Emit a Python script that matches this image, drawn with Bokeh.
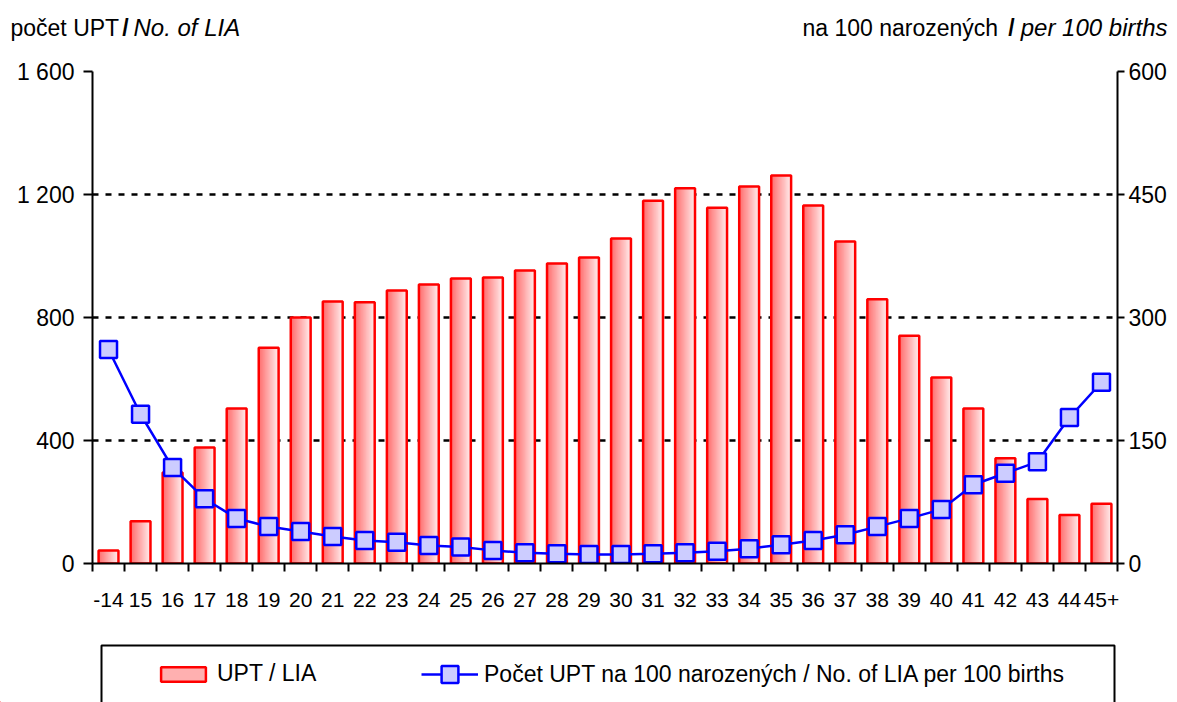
from bokeh.plotting import figure
from bokeh.layouts import column
from bokeh.models import (Range1d, LinearAxis, FixedTicker, ColumnDataSource, Legend,
                          LegendItem, Label, BoxAnnotation)
from bokeh.transform import dodge
from bokeh.embed import file_html
from bokeh.resources import INLINE

categories = ["-14", "15", "16", "17", "18", "19", "20", "21", "22", "23", "24", "25",
              "26", "27", "28", "29", "30", "31", "32", "33", "34", "35", "36", "37",
              "38", "39", "40", "41", "42", "43", "44", "45+"]
upt = [42, 137, 296, 377, 504, 702, 800, 852, 850, 888, 907, 927, 930, 953, 976, 995,
       1057, 1180, 1220, 1157, 1226, 1262, 1164, 1047, 859, 741, 605, 504, 342, 210, 158, 194]
rate = [261, 182, 117, 79, 55, 45, 39, 33, 28, 26, 22, 20, 16, 13, 12, 11,
        11, 12, 13, 15, 18, 23, 28, 35, 45, 55, 66, 96, 110, 124, 178, 221]
left_ticks = [0, 400, 800, 1200, 1600]
left_tick_labels = ["0", "400", "800", "1 200", "1 600"]
right_ticks = [0, 150, 300, 450, 600]

FONT = "Liberation Sans"
W = 1177
TOP_H, MAIN_H, LEG_H = 50, 590, 62
NCAT = len(categories)

# ---------------- title strip ----------------
tf = figure(width=W, height=TOP_H, x_range=Range1d(0, W), y_range=Range1d(0, TOP_H),
            output_backend="svg", toolbar_location=None, min_border=0, frame_align=False)
tf.axis.visible = False
tf.grid.visible = False
tf.outline_line_color = None
ty = TOP_H - 27
for txt, px, align, style, fs in [
    ("počet UPT", 10, "left", "normal", "23px"),
    ("/", 125, "center", "bold", "23px"),
    ("No. of LIA", 133, "left", "italic", "24px"),
    ("na  100 narozených", 1004, "right", "normal", "23px"),
    ("/", 1011, "center", "bold", "23px"),
    ("per 100 births", 1167, "right", "italic", "24px"),
]:
    tf.add_layout(Label(x=px, y=ty, text=txt, text_font=FONT, text_font_size=fs,
                        text_font_style=style, text_align=align, text_baseline="middle",
                        text_color="black"))

# ---------------- main chart ----------------
xs = [i + 0.5 for i in range(NCAT)]
src = ColumnDataSource(dict(x=xs, upt=upt, rate=rate, cat=categories))

p = figure(width=W, height=MAIN_H, x_range=Range1d(0, NCAT), y_range=Range1d(0, 1600),
           output_backend="svg", toolbar_location=None, frame_align=False,
           min_border_left=92, min_border_right=60, min_border_top=71 - TOP_H,
           min_border_bottom=TOP_H + MAIN_H - 563)
p.extra_y_ranges = {"rate": Range1d(0, 600)}
p.outline_line_color = None

p.xgrid.visible = False
p.ygrid.ticker = FixedTicker(ticks=[400, 800, 1200, 1600])
p.ygrid.grid_line_color = "black"
p.ygrid.grid_line_width = 2.5
p.ygrid.grid_line_dash = "6 7"

# bars: horizontal gradient built from layered bars sharing the right edge
bar_w = 0.62
N = 16
c0 = (255, 112, 112)
c1 = (255, 234, 234)
for k in range(N):
    t = k / (N - 1)
    col = "#%02x%02x%02x" % tuple(int(round(a + (b - a) * t)) for a, b in zip(c0, c1))
    left = -bar_w / 2 + k * bar_w / N
    right = bar_w / 2
    p.vbar(x=dodge("x", (left + right) / 2), top="upt", width=right - left, bottom=0,
           source=src, fill_color=col, line_color=None)
p.vbar(x="x", top="upt", width=bar_w, bottom=0, source=src,
       fill_color=None, line_color="#ff0000", line_width=2.5)

p.line(x="x", y="rate", source=src, y_range_name="rate", line_color="#0000ff", line_width=2.5)
p.scatter(x="x", y="rate", source=src, y_range_name="rate", marker="square", size=17,
          fill_color="#ccccff", line_color="#0000ff", line_width=2.5)

xa = p.xaxis[0]
xa.ticker = FixedTicker(ticks=xs, minor_ticks=list(range(NCAT + 1)))
xa.major_label_overrides = {x: c for x, c in zip(xs, categories)}
xa.major_tick_out = 0
xa.major_tick_in = 0
xa.minor_tick_out = 8
xa.minor_tick_in = 0
xa.minor_tick_line_color = "black"
xa.minor_tick_line_width = 2
xa.axis_line_color = "black"
xa.axis_line_width = 2
xa.major_label_text_font = FONT
xa.major_label_text_font_size = "21px"
xa.major_label_text_color = "black"
xa.major_label_standoff = 21

ya = p.yaxis[0]
ya.ticker = FixedTicker(ticks=left_ticks)
ya.major_label_overrides = {t: l for t, l in zip(left_ticks, left_tick_labels)}
ya.major_tick_out = 9
ya.major_tick_in = 0
ya.minor_tick_out = 0
ya.minor_tick_in = 0
ya.major_tick_line_width = 2
ya.axis_line_width = 2
ya.major_label_text_font = FONT
ya.major_label_text_font_size = "23px"
ya.major_label_text_color = "black"
ya.major_label_standoff = 9

ra = LinearAxis(y_range_name="rate", ticker=FixedTicker(ticks=right_ticks))
ra.major_tick_out = 7
ra.major_tick_in = 0
ra.minor_tick_out = 0
ra.minor_tick_in = 0
ra.major_tick_line_width = 2
ra.axis_line_width = 2
ra.major_label_text_font = FONT
ra.major_label_text_font_size = "23px"
ra.major_label_text_color = "black"
ra.major_label_standoff = 4
p.add_layout(ra, "right")

# ---------------- legend strip ----------------
lf = figure(width=W, height=LEG_H, x_range=Range1d(0, W), y_range=Range1d(0, LEG_H),
            output_backend="svg", toolbar_location=None, min_border=0, frame_align=False)
lf.axis.visible = False
lf.grid.visible = False
lf.outline_line_color = None
offscreen = ColumnDataSource(dict(x=[-5000], y=[-5000]))
lb = lf.vbar(x="x", top="y", width=1, bottom=-5001, source=offscreen, fill_color="#ffb0b0",
             line_color="#ff0000", line_width=2.5)
ll = lf.line(x="x", y="y", source=offscreen, line_color="#0000ff", line_width=2.5)
ls = lf.scatter(x="x", y="y", source=offscreen, marker="square", size=17,
                fill_color="#ccccff", line_color="#0000ff", line_width=2.5)
lf.add_layout(BoxAnnotation(left=101, right=1114, top=702 - 645, bottom=-20,
                            fill_alpha=0, line_color="black", line_width=2, line_alpha=1))
common = dict(orientation="horizontal", border_line_alpha=0, background_fill_alpha=0,
              padding=0, margin=0, label_standoff=6, label_text_font=FONT,
              label_text_font_size="23px", label_text_color="black")
legend1 = Legend(items=[LegendItem(label="UPT / LIA", renderers=[lb])],
                 location=(155, 702 - 674 - 13), glyph_width=56, glyph_height=18, **common)
legend2 = Legend(items=[LegendItem(label="Počet UPT na 100 narozených / No. of LIA per 100 births",
                                   renderers=[ll, ls])],
                 location=(421, 702 - 674 - 21), glyph_width=57, glyph_height=42, **common)
lf.add_layout(legend1, "center")
lf.add_layout(legend2, "center")

layout = column(tf, p, lf, spacing=0)
open("out.html", "w").write(file_html(layout, INLINE))
